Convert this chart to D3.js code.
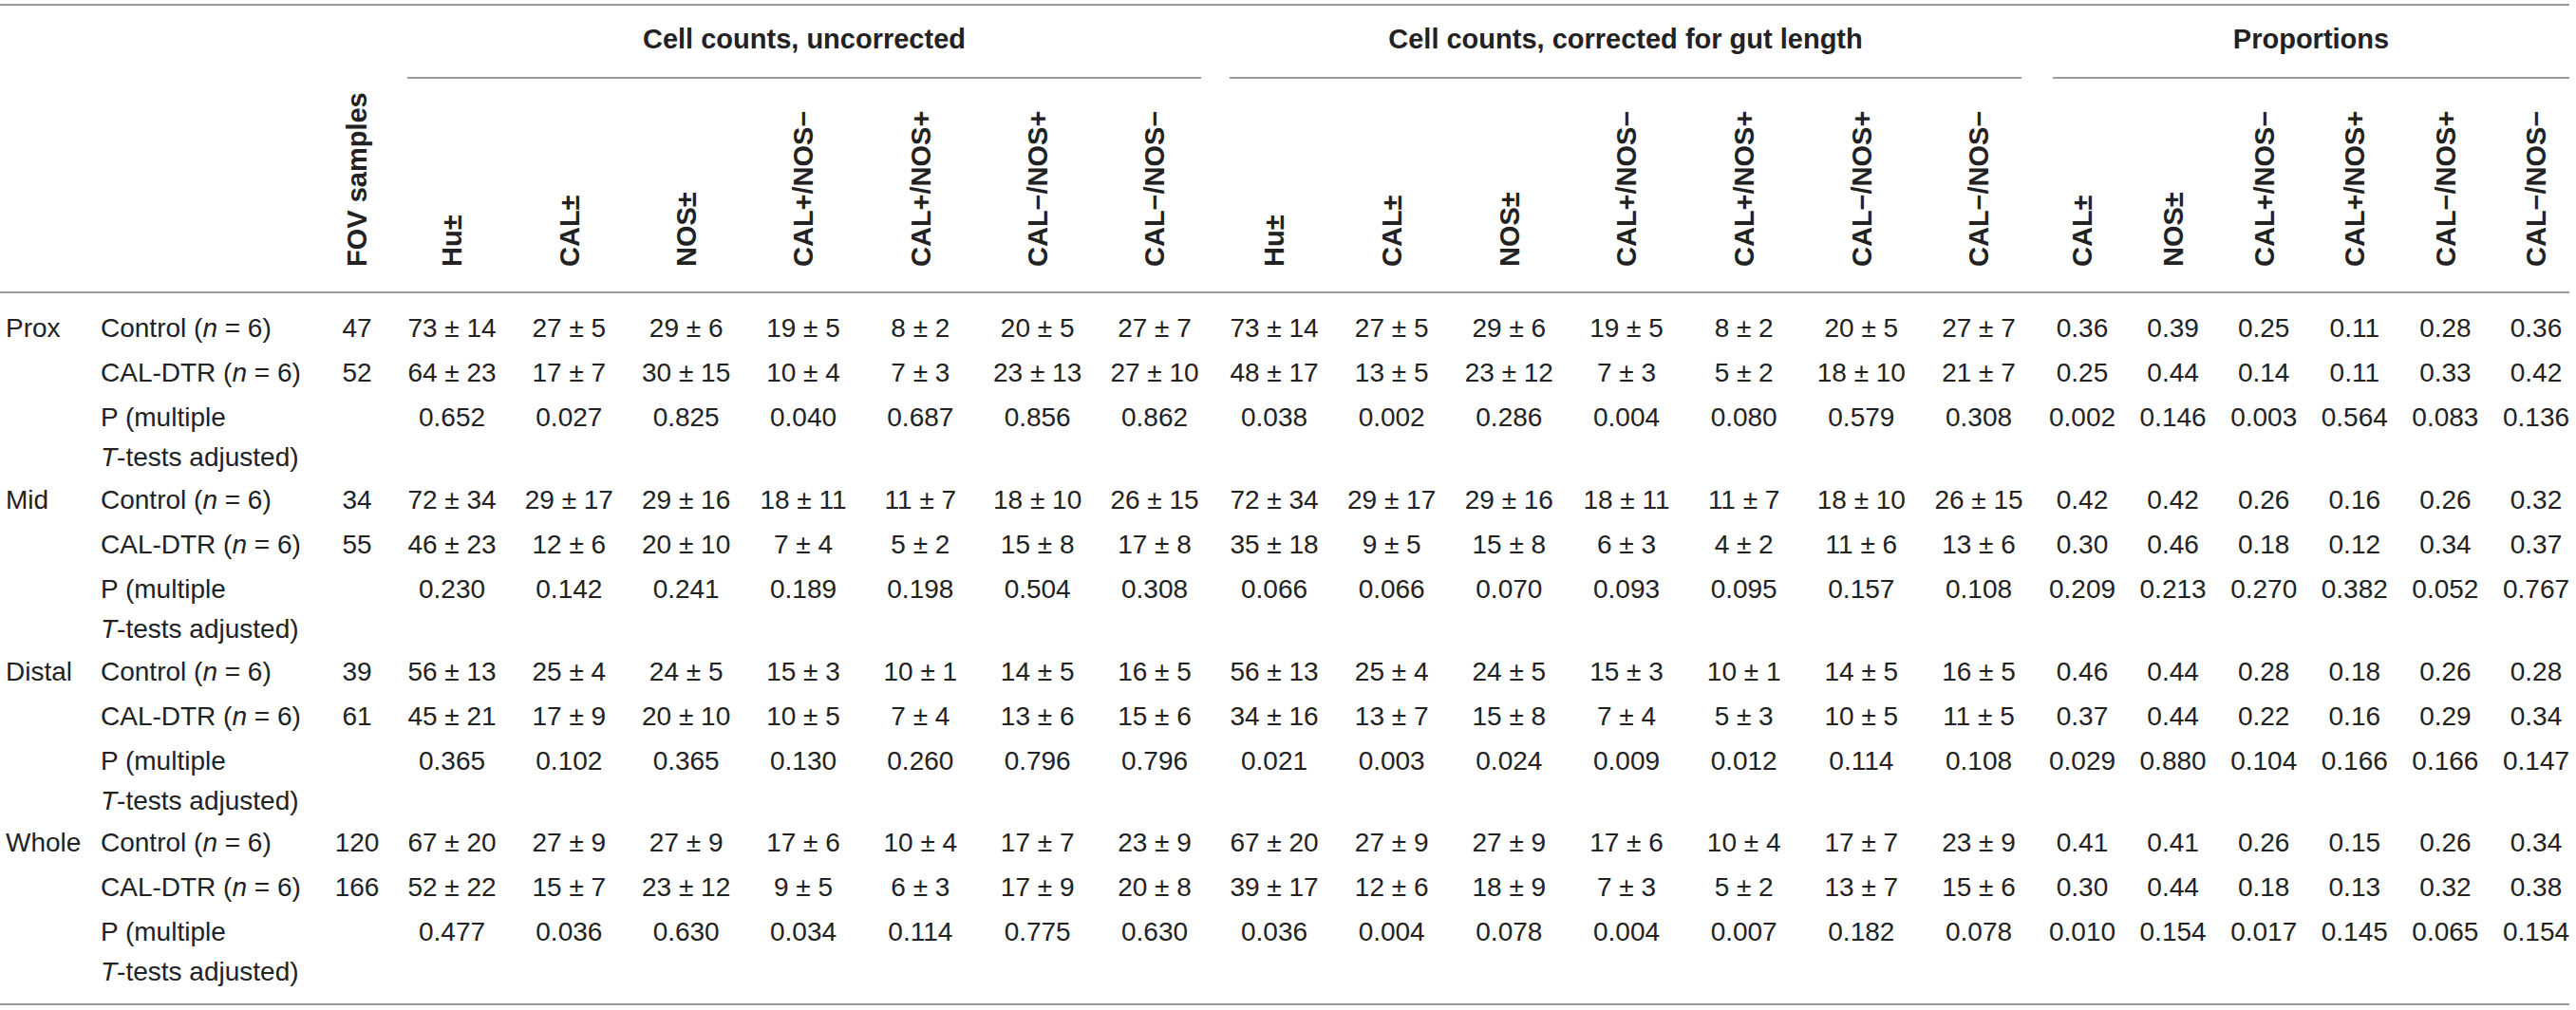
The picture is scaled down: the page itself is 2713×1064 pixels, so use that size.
<!DOCTYPE html>
<html>
<head>
<meta charset="utf-8">
<style>
  body { margin: 0; background: #fff; }
  svg text { font-family: "Liberation Sans", Arial, Helvetica, sans-serif; }
</style>
</head>
<body>
<svg width="2713" height="1064"></svg>
<script src="https://d3js.org/d3.v7.min.js"></script>
<script>

const regions = ["Prox", "Mid", "Distal", "Whole"];
const groupTitles = ["Cell counts, uncorrected", "Cell counts, corrected for gut length", "Proportions"];
const countCols = ["Hu±", "CAL±", "NOS±", "CAL+/NOS−", "CAL+/NOS+", "CAL−/NOS+", "CAL−/NOS−"];
const propCols = ["CAL±", "NOS±", "CAL+/NOS−", "CAL+/NOS+", "CAL−/NOS+", "CAL−/NOS−"];

// FOV samples [control, CAL-DTR] per region
const fovSamples = [[47, 52], [34, 55], [39, 61], [120, 166]];

// mean, sd
const uncorrControl = [
  [[73,14],[27,5],[29,6],[19,5],[8,2],[20,5],[27,7]],
  [[72,34],[29,17],[29,16],[18,11],[11,7],[18,10],[26,15]],
  [[56,13],[25,4],[24,5],[15,3],[10,1],[14,5],[16,5]],
  [[67,20],[27,9],[27,9],[17,6],[10,4],[17,7],[23,9]]
];
const uncorrDTR = [
  [[64,23],[17,7],[30,15],[10,4],[7,3],[23,13],[27,10]],
  [[46,23],[12,6],[20,10],[7,4],[5,2],[15,8],[17,8]],
  [[45,21],[17,9],[20,10],[10,5],[7,4],[13,6],[15,6]],
  [[52,22],[15,7],[23,12],[9,5],[6,3],[17,9],[20,8]]
];
const uncorrP = [
  ["0.652","0.027","0.825","0.040","0.687","0.856","0.862"],
  ["0.230","0.142","0.241","0.189","0.198","0.504","0.308"],
  ["0.365","0.102","0.365","0.130","0.260","0.796","0.796"],
  ["0.477","0.036","0.630","0.034","0.114","0.775","0.630"]
];
const corrControl = [
  [[73,14],[27,5],[29,6],[19,5],[8,2],[20,5],[27,7]],
  [[72,34],[29,17],[29,16],[18,11],[11,7],[18,10],[26,15]],
  [[56,13],[25,4],[24,5],[15,3],[10,1],[14,5],[16,5]],
  [[67,20],[27,9],[27,9],[17,6],[10,4],[17,7],[23,9]]
];
const corrDTR = [
  [[48,17],[13,5],[23,12],[7,3],[5,2],[18,10],[21,7]],
  [[35,18],[9,5],[15,8],[6,3],[4,2],[11,6],[13,6]],
  [[34,16],[13,7],[15,8],[7,4],[5,3],[10,5],[11,5]],
  [[39,17],[12,6],[18,9],[7,3],[5,2],[13,7],[15,6]]
];
const corrP = [
  ["0.038","0.002","0.286","0.004","0.080","0.579","0.308"],
  ["0.066","0.066","0.070","0.093","0.095","0.157","0.108"],
  ["0.021","0.003","0.024","0.009","0.012","0.114","0.108"],
  ["0.036","0.004","0.078","0.004","0.007","0.182","0.078"]
];
const propControl = [
  ["0.36","0.39","0.25","0.11","0.28","0.36"],
  ["0.42","0.42","0.26","0.16","0.26","0.32"],
  ["0.46","0.44","0.28","0.18","0.26","0.28"],
  ["0.41","0.41","0.26","0.15","0.26","0.34"]
];
const propDTR = [
  ["0.25","0.44","0.14","0.11","0.33","0.42"],
  ["0.30","0.46","0.18","0.12","0.34","0.37"],
  ["0.37","0.44","0.22","0.16","0.29","0.34"],
  ["0.30","0.44","0.18","0.13","0.32","0.38"]
];
const propP = [
  ["0.002","0.146","0.003","0.564","0.083","0.136"],
  ["0.209","0.213","0.270","0.382","0.052","0.767"],
  ["0.029","0.880","0.104","0.166","0.166","0.147"],
  ["0.010","0.154","0.017","0.145","0.065","0.154"]
];

// ---- layout ----
const width = 2713, height = 1064;
const ink = "#222", rule = "#9a9a9a";
const fs = 28;

const svg = d3.select("svg").attr("width", width).attr("height", height);

// columns
const xFov = 376;
const xUnc = d3.scalePoint().domain(countCols).range([476, 1216]);
const xCor = d3.scalePoint().domain(countCols).range([1342, 2084]);
const xProp = d3.scalePoint().domain(propCols).range([2193, 2671]);

// rows
const yRegion = d3.scaleLinear().domain([0, 4]).range([345, 345 + 4 * 180.8]);
const yRow = d3.scalePoint().domain(["ctrl", "dtr", "p"]).range([0, 94]);
const pSecondLine = 42;

// horizontal rules
const hline = (x1, x2, y) => svg.append("line")
  .attr("x1", x1).attr("x2", x2).attr("y1", y).attr("y2", y)
  .attr("stroke", rule).attr("stroke-width", 2);

hline(0, 2706, 5);
hline(0, 2706, 308);
hline(0, 2706, 1058);
hline(429, 1265, 82);
hline(1295, 2129, 82);
hline(2162, 2706, 82);

// group titles
const groupCentres = [(429 + 1265) / 2, (1295 + 2129) / 2, (2162 + 2706) / 2];
svg.selectAll(".gtitle").data(groupTitles).enter().append("text")
  .attr("class", "gtitle")
  .attr("x", (d, i) => groupCentres[i])
  .attr("y", 41)
  .attr("dy", "0.36em")
  .attr("text-anchor", "middle")
  .attr("font-size", 29)
  .attr("font-weight", "bold")
  .attr("fill", ink)
  .text(d => d);

// rotated column heads
const heads = [{label: "FOV samples", x: xFov}]
  .concat(countCols.map(c => ({label: c, x: xUnc(c)})))
  .concat(countCols.map(c => ({label: c, x: xCor(c)})))
  .concat(propCols.map(c => ({label: c, x: xProp(c)})));

svg.selectAll(".head").data(heads).enter().append("text")
  .attr("class", "head")
  .attr("transform", d => `translate(${d.x},281) rotate(-90)`)
  .attr("dy", "0.36em")
  .attr("font-size", 29)
  .attr("font-weight", "bold")
  .attr("fill", ink)
  .text(d => d.label);

// body text helper
function cell(x, y, txt, anchor) {
  return svg.append("text")
    .attr("x", x).attr("y", y).attr("dy", "0.36em")
    .attr("text-anchor", anchor || "middle")
    .attr("font-size", fs)
    .attr("fill", ink)
    .text(txt);
}
const pm = d => d[0] + " ± " + d[1];

regions.forEach((reg, r) => {
  const y0 = yRegion(r);
  const yc = y0 + yRow("ctrl"), yd = y0 + yRow("dtr"), yp = y0 + yRow("p");

  cell(6, yc, reg, "start");

  // condition labels
  const lab1 = cell(106, yc, "Control (", "start");
  lab1.append("tspan").attr("font-style", "italic").text("n");
  lab1.append("tspan").text(" = 6)");
  const lab2 = cell(106, yd, "CAL-DTR (", "start");
  lab2.append("tspan").attr("font-style", "italic").text("n");
  lab2.append("tspan").text(" = 6)");
  cell(106, yp, "P (multiple", "start");
  const lab4 = cell(106, yp + pSecondLine, "", "start");
  lab4.append("tspan").attr("font-style", "italic").text("T");
  lab4.append("tspan").text("-tests adjusted)");

  cell(xFov, yc, fovSamples[r][0]);
  cell(xFov, yd, fovSamples[r][1]);

  countCols.forEach((c, j) => {
    cell(xUnc(c), yc, pm(uncorrControl[r][j]));
    cell(xUnc(c), yd, pm(uncorrDTR[r][j]));
    cell(xUnc(c), yp, uncorrP[r][j]);
    cell(xCor(c), yc, pm(corrControl[r][j]));
    cell(xCor(c), yd, pm(corrDTR[r][j]));
    cell(xCor(c), yp, corrP[r][j]);
  });
  propCols.forEach((c, j) => {
    cell(xProp(c), yc, propControl[r][j]);
    cell(xProp(c), yd, propDTR[r][j]);
    cell(xProp(c), yp, propP[r][j]);
  });
});
</script>
</body>
</html>
